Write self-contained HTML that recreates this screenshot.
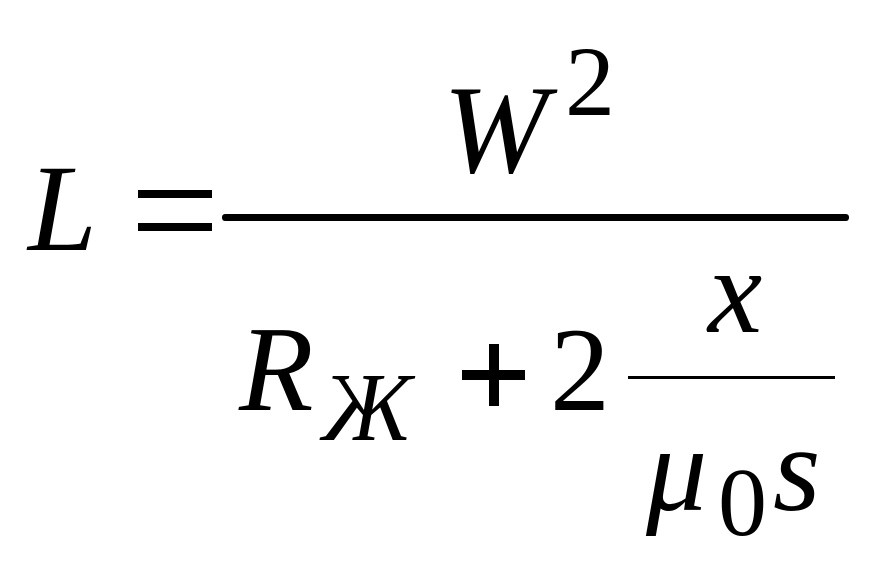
<!DOCTYPE html>
<html><head><meta charset="utf-8"><style>
html,body{margin:0;padding:0;background:#fff;width:872px;height:573px;overflow:hidden}
svg{display:block}
text{font-family:"Liberation Serif",serif;fill:#000}
</style></head><body>
<svg width="872" height="573" viewBox="0 0 872 573" xmlns="http://www.w3.org/2000/svg">
<text x="28" y="250" font-size="124" font-style="italic">L</text>
<rect x="138" y="190" width="74" height="8" fill="#000"/>
<rect x="138" y="223" width="74" height="8" fill="#000"/>
<rect x="222" y="214" width="627" height="7" rx="3" fill="#000"/>
<text x="443" y="172" font-size="126" font-style="italic">W</text>
<text x="565" y="115" font-size="100">2</text>
<text x="239" y="410" font-size="122" font-style="italic">R</text>
<text x="322" y="440" font-size="98" font-style="italic">Ж</text>
<rect x="462" y="370" width="63" height="10" fill="#000"/>
<rect x="489" y="344" width="10" height="62" fill="#000"/>
<text x="550" y="410" font-size="120">2</text>
<rect x="628" y="376" width="207" height="3" fill="#000"/>
<text x="708" y="332" font-size="122" font-style="italic">x</text>
<text x="646" y="510" font-size="122" font-style="italic">μ</text>
<text x="718" y="535" font-size="98">0</text>
<text x="773" y="510" font-size="122" font-style="italic">s</text>
</svg>
</body></html>
